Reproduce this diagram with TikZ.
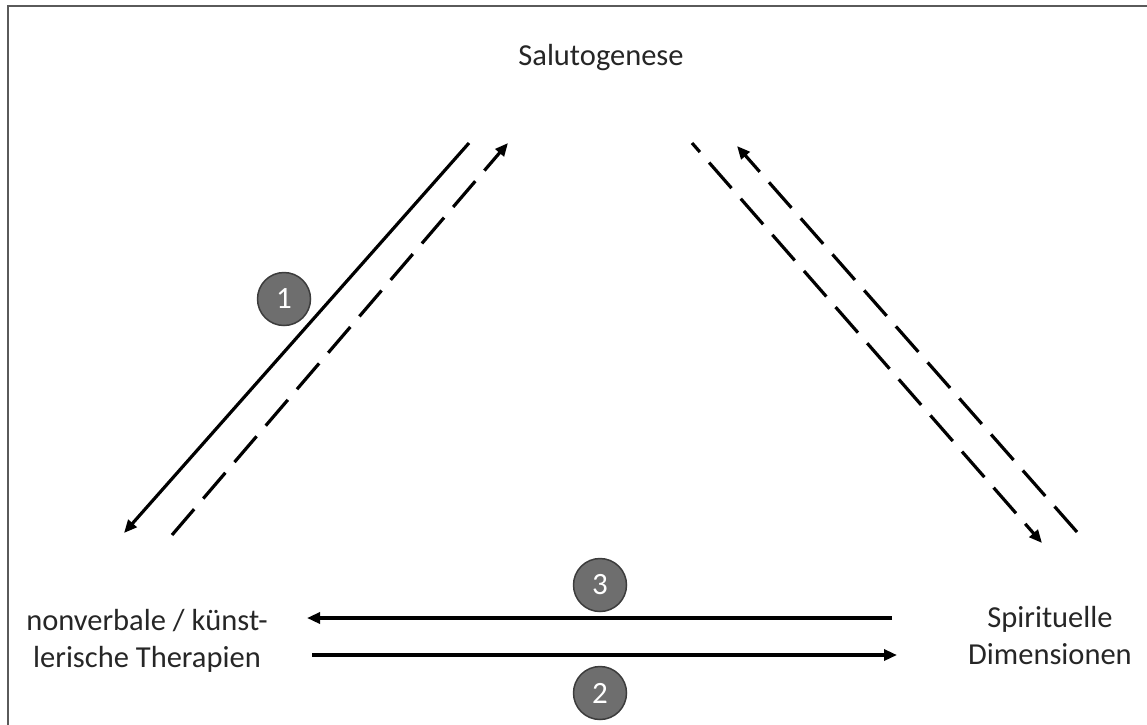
\documentclass[tikz,border=0pt]{standalone}
\usepackage{fontspec}
\setmainfont{Carlito}
\usetikzlibrary{arrows.meta}
\definecolor{framegray}{HTML}{5A5A5A}
\definecolor{circfill}{HTML}{6E6E6E}
\definecolor{circdraw}{HTML}{3C3C3C}
\tikzset{
  lbl/.style={font=\fontsize{30.5}{37}\selectfont, inner sep=0pt, text=black!85},
  num/.style={circle, fill=circfill, draw=circdraw, line width=1.5pt, minimum size=53pt, inner sep=0pt, text=white, font=\fontsize{31}{34}\selectfont},
  conn/.style={line width=3.2pt, -{Triangle[length=13pt,width=11pt]}},
  dsh/.style={conn, dash pattern=on 34pt off 14pt},
}
\begin{document}
\begin{tikzpicture}[x=1pt,y=-1pt]
\useasboundingbox (0,0) rectangle (1147,724);
\fill[white] (0,0) rectangle (1147,724);
\draw[framegray, line width=2pt] (8,730) -- (8,6) -- (1150,6);

\node[lbl] (sal) at (601,58) {Salutogenese};
\node[lbl, align=center] (nv) at (147,641) {nonverbale / künst-\\lerische Therapien};
\node[lbl, align=center] (sp) at (1050,636) {Spirituelle\\Dimensionen};

% left pair
\coordinate (l1s) at (469,143);
\coordinate (l1e) at (124,533);
\coordinate (l2s) at (172,535);
\coordinate (l2e) at (508,143);
\draw[conn] (l1s) -- (l1e);
\draw[dsh] (l2s) -- (l2e);

% right pair
\coordinate (r1s) at (692,143);
\coordinate (r1e) at (1042,543);
\coordinate (r2s) at (1077,532);
\coordinate (r2e) at (737,146);
\draw[dsh, dash phase=22pt] (r1s) -- (r1e);
\draw[dsh] (r2s) -- (r2e);

% horizontal
\coordinate (h1s) at (892,618);
\coordinate (h1e) at (307,618);
\coordinate (h2s) at (312,655);
\coordinate (h2e) at (897,655);
\draw[conn] (h1s) -- (h1e);
\draw[conn] (h2s) -- (h2e);

\node[num] (c1) at (284,299) {1};
\node[num] (c3) at (600,585) {3};
\node[num] (c2) at (600,693) {2};
\end{tikzpicture}
\end{document}
